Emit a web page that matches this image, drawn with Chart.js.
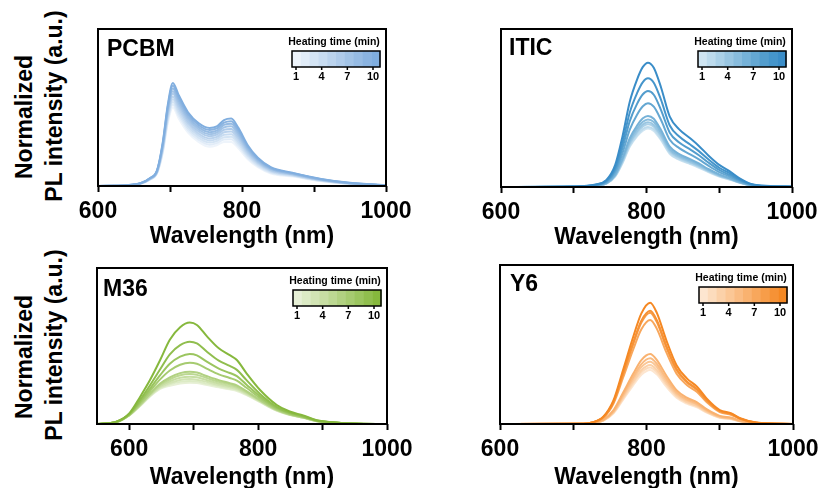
<!DOCTYPE html>
<html>
<head>
<meta charset="utf-8">
<script src="https://cdn.jsdelivr.net/npm/chart.js@4.4.0/dist/chart.umd.min.js"></script>
<style>
body { margin:0; background:#fff; overflow:hidden; width:823px; height:488px; position:relative; font-family:"Liberation Sans", Arial, sans-serif; }
canvas { position:absolute; }
.yt { position:absolute; transform:translate(-50%,-50%) rotate(-90deg); font-weight:bold; font-size:23px; white-space:nowrap; color:#000; }
</style>
</head>
<body>
<div class="yt" style="left:24px; top:117px">Normalized</div>
<div class="yt" style="left:54px; top:106px">PL intensity (a.u.)</div>
<div class="yt" style="left:24px; top:357px">Normalized</div>
<div class="yt" style="left:54px; top:345px">PL intensity (a.u.)</div>

<canvas id="pcbm"></canvas>
<canvas id="itic"></canvas>
<canvas id="m36"></canvas>
<canvas id="y6"></canvas>

<script>
// heating time legend
const heatTimes = [1, 4, 7, 10];
const majorTicks = [600, 800, 1000];
const allTicks = [600, 700, 800, 900, 1000];

// ---- PCBM ----
const pcbmWave = [600,640,660,672,682,690,697,704,712,725,740,755,765,775,785,795,808,822,840,870,910,950,1000];
const pcbmCurves = [
  [0,.004,.015,.04,.08,.21,.40,.50,.43,.34,.28,.25,.26,.28,.28,.24,.17,.12,.08,.06,.03,.013,.003],          // 1 min
  [0,.004,.016,.041,.082,.218,.413,.517,.447,.354,.293,.263,.273,.296,.297,.254,.18,.127,.084,.063,.032,.014,.003],
  [0,.004,.016,.042,.084,.226,.427,.535,.463,.369,.307,.277,.287,.311,.313,.269,.19,.133,.089,.066,.033,.015,.003],
  [0,.004,.017,.043,.087,.233,.44,.552,.48,.383,.32,.29,.30,.327,.33,.283,.20,.14,.093,.068,.035,.015,.004],
  [0,.004,.017,.044,.089,.241,.453,.569,.497,.398,.333,.303,.313,.342,.347,.298,.21,.147,.098,.071,.037,.016,.004],
  [0,.005,.018,.046,.091,.249,.467,.587,.513,.412,.347,.317,.327,.358,.363,.312,.22,.153,.102,.074,.038,.017,.004],
  [0,.005,.018,.047,.093,.257,.48,.604,.53,.427,.36,.33,.34,.373,.38,.327,.23,.16,.107,.077,.04,.018,.004],
  [0,.005,.019,.048,.096,.264,.493,.621,.547,.441,.373,.343,.353,.389,.397,.341,.24,.167,.111,.079,.042,.018,.005],
  [0,.005,.019,.049,.098,.272,.507,.639,.563,.456,.387,.357,.367,.404,.413,.356,.25,.173,.116,.082,.043,.019,.005],
  [0,.005,.02,.05,.10,.28,.52,.656,.58,.47,.40,.37,.38,.42,.43,.37,.26,.18,.12,.085,.045,.02,.005]            // 10 min
];
const pcbmColors = ['#eef4fb','#e1ecf8','#d4e4f4','#c8dcf1','#bbd3ed','#afcbea','#a2c3e6','#96bbe3','#8ab3e0','#80aedf'];

// ---- ITIC ----
const iticWave = [600,700,730,745,757,767,777,787,795,802,810,820,832,845,860,872,885,900,915,928,945,970,1000];
const iticCurves = [
  [0,.001,.008,.021,.066,.150,.254,.320,.357,.37,.355,.296,.209,.172,.145,.122,.094,.066,.046,.026,.008,.003,.001],
  [0,.001,.008,.022,.068,.155,.261,.328,.367,.38,.365,.304,.215,.176,.149,.126,.097,.068,.047,.027,.009,.003,.001],
  [0,.002,.008,.023,.071,.161,.272,.343,.383,.397,.381,.318,.224,.184,.155,.131,.101,.071,.049,.028,.009,.003,.001],
  [0,.002,.008,.023,.073,.167,.281,.354,.396,.41,.393,.328,.232,.19,.16,.135,.104,.073,.051,.029,.009,.003,.001],
  [0,.002,.009,.024,.076,.174,.294,.370,.413,.428,.411,.343,.242,.199,.168,.141,.109,.076,.053,.03,.01,.003,.001],
  [0,.002,.009,.026,.08,.183,.309,.389,.435,.45,.432,.360,.255,.209,.176,.149,.114,.08,.055,.031,.01,.003,.001],
  [0,.002,.011,.03,.094,.215,.363,.458,.511,.53,.508,.424,.299,.246,.207,.175,.135,.094,.065,.037,.012,.004,.001],
  [0,.002,.012,.035,.108,.247,.417,.526,.587,.608,.584,.487,.344,.282,.238,.201,.155,.108,.075,.043,.014,.005,.002],
  [0,.003,.014,.039,.122,.28,.472,.594,.664,.688,.660,.551,.389,.319,.269,.227,.175,.122,.085,.048,.016,.005,.002],
  [0,.003,.016,.045,.14,.32,.54,.68,.76,.787,.755,.63,.445,.365,.308,.26,.20,.14,.097,.055,.018,.006,.002]
];
const iticColors = ['#cfe5f2','#bddbed','#abd1e8','#99c6e2','#88bcdd','#76b2d8','#64a7d2','#539dcd','#4595cb','#3a8dc8'];

// ---- M36 ----
const m36Wave = [550,580,600,617,632,648,663,679,694,705,721,739,756,767,782,803,829,849,870,891,912,950,1000];
const m36Curves = [
  [0,.012,.055,.115,.175,.225,.245,.26,.265,.262,.25,.235,.222,.212,.185,.14,.085,.058,.04,.018,.01,.002,0],
  [0,.012,.055,.117,.178,.23,.254,.27,.276,.273,.259,.242,.228,.218,.189,.142,.086,.059,.04,.018,.01,.002,0],
  [0,.012,.056,.119,.181,.236,.263,.282,.288,.284,.269,.25,.235,.224,.193,.145,.087,.059,.041,.018,.01,.002,0],
  [0,.012,.056,.121,.185,.243,.274,.296,.303,.299,.281,.26,.244,.232,.199,.148,.089,.06,.041,.019,.01,.002,0],
  [0,.012,.057,.124,.19,.252,.287,.312,.32,.315,.294,.271,.254,.24,.205,.151,.09,.061,.042,.019,.01,.002,0],
  [0,.013,.057,.126,.194,.259,.299,.326,.335,.33,.306,.281,.262,.248,.211,.154,.092,.062,.043,.019,.011,.002,0],
  [0,.013,.059,.135,.21,.286,.343,.38,.393,.386,.353,.318,.295,.278,.232,.166,.097,.065,.045,.02,.011,.002,0],
  [0,.013,.061,.144,.225,.313,.386,.432,.449,.44,.398,.355,.327,.307,.252,.177,.103,.069,.047,.021,.011,.003,0],
  [0,.014,.064,.156,.247,.351,.447,.506,.528,.517,.462,.406,.372,.347,.281,.193,.11,.073,.05,.022,.012,.003,0],
  [0,.015,.068,.175,.28,.41,.54,.62,.65,.635,.56,.485,.442,.41,.325,.218,.122,.08,.055,.024,.013,.003,0]
];
const m36Colors = ['#e7f0d6','#dcebc5','#d2e4b4','#c7dea3','#bcd892','#b1d181','#a6cb70','#9bc55f','#90be4e','#86b83d'];

// ---- Y6 ----
const y6Wave = [600,708,726,741,755,768,782,793,805,814,827,841,855,869,882,900,916,928,950,1000];
const y6Curves = [
  [0,0,.004,.021,.067,.152,.245,.31,.34,.312,.235,.165,.128,.105,.072,.039,.03,.016,.004,0],
  [0,0,.005,.021,.07,.159,.257,.325,.356,.327,.247,.173,.134,.11,.075,.041,.031,.017,.004,0],
  [0,0,.005,.022,.073,.165,.267,.338,.371,.34,.257,.18,.139,.114,.078,.043,.033,.017,.004,0],
  [0,.001,.005,.024,.077,.175,.283,.358,.392,.36,.271,.19,.148,.121,.083,.045,.034,.019,.005,0],
  [0,.001,.005,.025,.081,.184,.298,.377,.413,.379,.286,.2,.155,.127,.087,.048,.036,.019,.005,0],
  [0,.001,.006,.027,.087,.196,.317,.402,.44,.404,.305,.213,.166,.136,.093,.051,.039,.021,.005,0],
  [0,.001,.009,.039,.129,.291,.471,.596,.654,.6,.452,.317,.246,.201,.138,.075,.057,.031,.008,0],
  [0,.001,.009,.042,.138,.312,.504,.638,.70,.642,.484,.339,.263,.215,.148,.081,.061,.033,.008,0],
  [0,.001,.009,.043,.14,.318,.514,.65,.713,.654,.493,.346,.268,.219,.15,.082,.063,.034,.008,0],
  [0,.001,.01,.046,.15,.34,.55,.696,.763,.70,.528,.37,.287,.235,.161,.088,.067,.036,.009,0]
];
const y6Colors = ['#fde6d0','#fcdcbd','#fbd1a9','#fbc796','#fabc83','#f9b270','#f8a75c','#f79d49','#f69236','#f58823'];

const FONT = '"Liberation Sans", Arial, sans-serif';

// frame, panel name and colour-bar legend
const decorPlugin = {
  id: 'decor',
  afterDraw(chart) {
    const o = chart.options.plugins.decor;
    const a = chart.chartArea;
    const ctx = chart.ctx;
    ctx.save();
    ctx.strokeStyle = '#000';
    ctx.lineWidth = 2;
    ctx.strokeRect(a.left, a.top, a.right - a.left, a.bottom - a.top);

    ctx.fillStyle = '#000';
    ctx.font = 'bold 23px ' + FONT;
    ctx.textBaseline = 'alphabetic';
    ctx.textAlign = 'left';
    ctx.fillText(o.name, a.left + o.nameDx, a.top + o.nameDy);

    // colour bar
    const bw = 88, bh = 16;
    const bx = a.right - 6 - bw, by = a.top + 22;
    const seg = bw / o.colors.length;
    o.colors.forEach((c, i) => {
      ctx.fillStyle = c;
      ctx.fillRect(bx + i * seg, by, seg + 0.5, bh);
    });
    ctx.lineWidth = 1.5;
    ctx.strokeRect(bx, by, bw, bh);
    ctx.fillStyle = '#000';
    ctx.font = 'bold 10.5px ' + FONT;
    ctx.textAlign = 'center';
    ctx.textBaseline = 'middle';
    ctx.fillText('Heating time (min)', bx + bw / 2 - 2, a.top + 13);
    ctx.font = 'bold 11px ' + FONT;
    heatTimes.forEach(t => {
      const tx = bx + 4 + (t - 1) / 9 * 77;
      ctx.beginPath();
      ctx.moveTo(tx, by + bh);
      ctx.lineTo(tx, by + bh + 3);
      ctx.stroke();
      ctx.fillText(String(t), tx, a.top + 48);
    });
    ctx.restore();
  }
};

function makePanel(id, rect, wave, curves, colors, xmin, axisH, name, nameDx, nameDy, lw) {
  const padL = 40, padR = 40, padT = 5;
  const W = rect.R - rect.L, H = rect.B - rect.T;
  const cv = document.getElementById(id);
  cv.width = W + padL + padR;
  cv.height = H + padT + axisH;
  cv.style.left = (rect.L - padL) + 'px';
  cv.style.top = (rect.T - padT) + 'px';

  const datasets = [];
  for (let i = curves.length - 1; i >= 0; i--) {
    datasets.push({
      data: wave.map((w, k) => ({ x: w, y: curves[i][k] })),
      borderColor: colors[i],
      borderWidth: lw,
      pointRadius: 0,
      fill: false,
      cubicInterpolationMode: 'monotone'
    });
  }

  new Chart(cv.getContext('2d'), {
    type: 'line',
    data: { datasets },
    options: {
      responsive: false,
      animation: false,
      events: [],
      layout: { padding: { left: padL, right: padR, top: padT, bottom: 0 } },
      plugins: {
        legend: { display: false },
        tooltip: { enabled: false },
        decor: { name, nameDx, nameDy, colors }
      },
      scales: {
        x: {
          type: 'linear',
          min: xmin,
          max: 1000,
          afterBuildTicks: s => { s.ticks = allTicks.map(v => ({ value: v })); },
          afterFit: s => { s.height = axisH; },
          border: { display: false },
          grid: { drawOnChartArea: false, drawTicks: true, tickLength: 6, tickWidth: 2, color: '#000' },
          ticks: {
            autoSkip: false,
            maxRotation: 0,
            padding: 6,
            color: '#000',
            font: { family: FONT, size: 23, weight: 'bold' },
            callback: v => majorTicks.includes(v) ? String(v) : ''
          },
          title: {
            display: true,
            text: 'Wavelength (nm)',
            color: '#000',
            font: { family: FONT, size: 23, weight: 'bold', lineHeight: 1.2 },
            padding: { top: 0, bottom: 6 }
          }
        },
        y: { display: false, min: 0, max: 1 }
      }
    },
    plugins: [decorPlugin]
  });
}

makePanel('pcbm', { L: 98, T: 29, R: 386, B: 186 }, pcbmWave, pcbmCurves, pcbmColors, 600, 70, 'PCBM', 9, 27, 2);
makePanel('itic', { L: 501, T: 29, R: 792, B: 187 }, iticWave, iticCurves, iticColors, 600, 70, 'ITIC', 8, 26, 2);
makePanel('m36', { L: 97, T: 268, R: 387, B: 424 }, m36Wave, m36Curves, m36Colors, 550, 73, 'M36', 6, 28, 2);
makePanel('y6', { L: 500, T: 265, R: 793, B: 424 }, y6Wave, y6Curves, y6Colors, 600, 73, 'Y6', 10, 26, 2);
</script>
</body>
</html>
